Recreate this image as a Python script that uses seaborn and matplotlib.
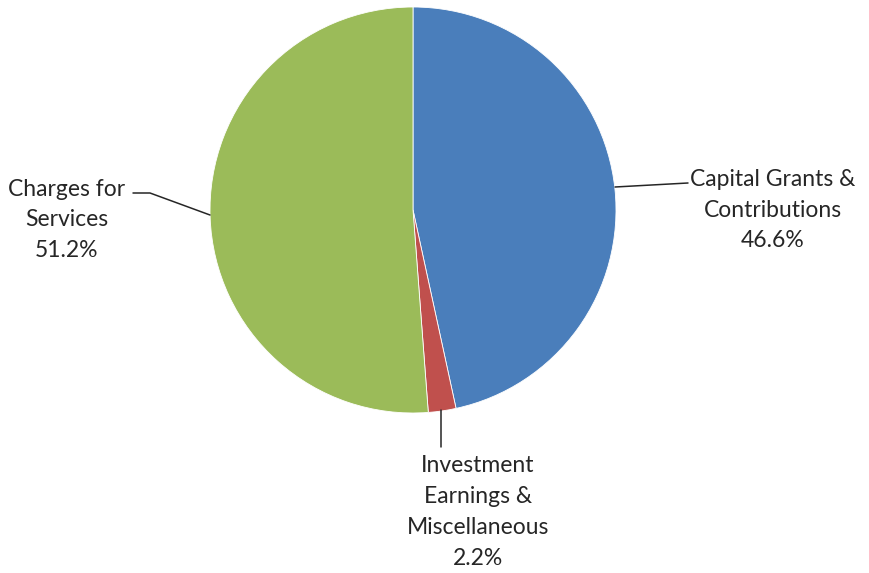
import matplotlib
matplotlib.use("Agg")
import matplotlib.pyplot as plt
import seaborn as sns

categories = ["Capital Grants &\nContributions", "Investment\nEarnings &\nMiscellaneous", "Charges for\nServices"]
values = [46.6, 2.2, 51.2]
colors = ["#4A7EBB", "#C0504D", "#9BBB59"]

sns.set_style("white")
plt.rcParams['font.family'] = ['Lato', 'DejaVu Sans']

fig = plt.figure(figsize=(8.7, 5.73), dpi=100)
ax = fig.add_axes([0, 0, 1, 1])

cx, cy, r = 413, 210, 203
# y axis is inverted below, so counterclockwise in data = clockwise on screen
ax.pie(values, colors=colors, startangle=-90, counterclock=True,
       center=(cx, cy), radius=r, frame=True,
       wedgeprops=dict(linewidth=0.6, edgecolor='white'))
ax.set_xlim(0, 870)
ax.set_ylim(573, 0)
ax.set_aspect('equal')
ax.axis('off')

txt = dict(fontsize=16.5, color='#262626', ha='center', va='center', linespacing=1.58)
lc = dict(color='#262626', lw=1.1)

ax.plot([615, 688], [187, 183], **lc)
ax.text(773, 210, categories[0] + "\n" + f"{values[0]}%", **txt)

ax.plot([441, 441], [410, 447], **lc)
ax.text(478, 512, categories[1] + "\n" + f"{values[1]}%", **txt)

ax.plot([210, 150, 133], [215, 193, 193], **lc)
ax.text(67, 220, categories[2] + "\n" + f"{values[2]}%", **txt)

fig.savefig("out.png", dpi=100)
